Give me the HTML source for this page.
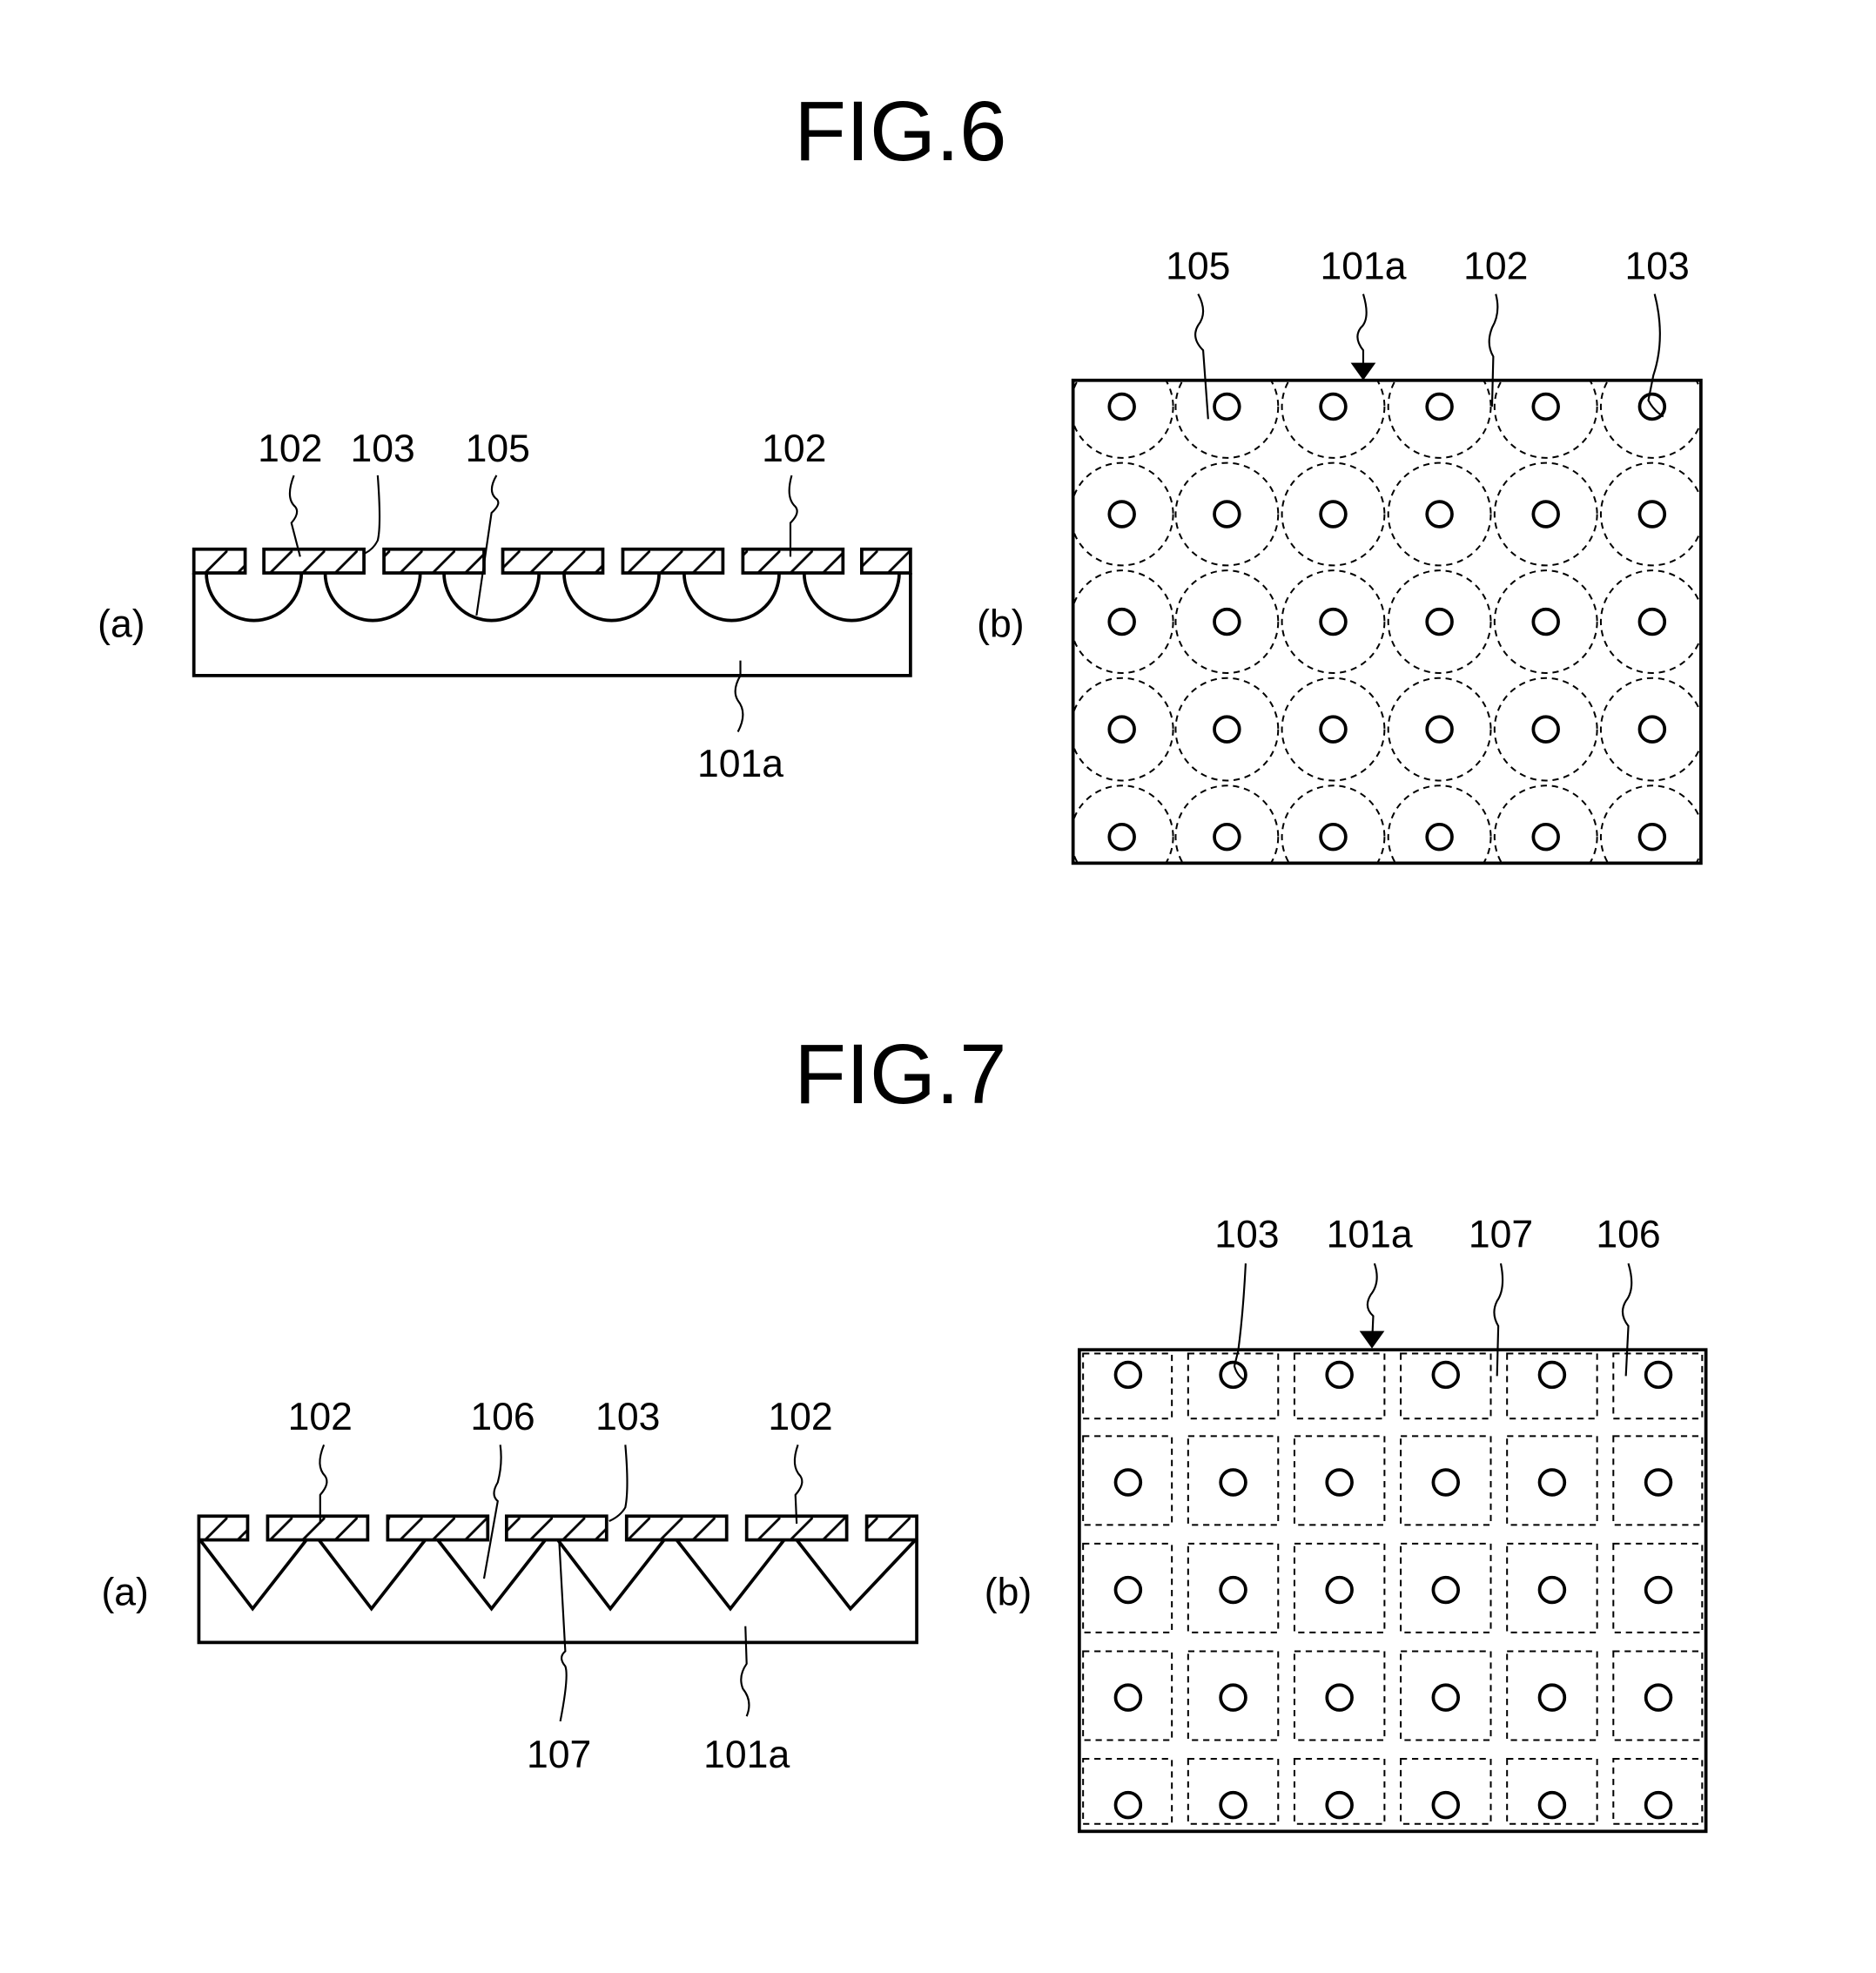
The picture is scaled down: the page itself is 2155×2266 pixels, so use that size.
<!DOCTYPE html>
<html><head><meta charset="utf-8"><style>html,body{margin:0;padding:0;background:#fff}svg{display:block}</style></head>
<body>
<svg width="2155" height="2266" viewBox="0 0 1500 1577.2" xmlns="http://www.w3.org/2000/svg" font-family="Liberation Sans, sans-serif">
<defs>
<pattern id="h" patternUnits="userSpaceOnUse" width="26" height="26" patternTransform="translate(0,440)">
<line x1="0" y1="26" x2="26" y2="0" stroke="#000" stroke-width="2"/>
</pattern>
<pattern id="h2" patternUnits="userSpaceOnUse" width="26" height="26" patternTransform="translate(0,1213)">
<line x1="0" y1="26" x2="26" y2="0" stroke="#000" stroke-width="2"/>
</pattern>
</defs>
<rect width="1500" height="1577.2" fill="#fff"/>
<g fill="#000" text-anchor="middle">
<text x="720" y="128" font-size="68">FIG.6</text>
<text x="720" y="882" font-size="68">FIG.7</text>
<g font-size="31">
<text x="97" y="509">(a)</text>
<text x="800" y="509">(b)</text>
<text x="232" y="369">102</text><text x="306" y="369">103</text><text x="398" y="369">105</text><text x="635" y="369">102</text>
<text x="592" y="621">101a</text>
<text x="958" y="223">105</text><text x="1090" y="223">101a</text><text x="1196" y="223">102</text><text x="1325" y="223">103</text>
<text x="100" y="1283">(a)</text>
<text x="806" y="1283">(b)</text>
<text x="256" y="1143">102</text><text x="402" y="1143">106</text><text x="502" y="1143">103</text><text x="640" y="1143">102</text>
<text x="447" y="1413">107</text><text x="597" y="1413">101a</text>
<text x="997" y="997">103</text><text x="1095" y="997">101a</text><text x="1200" y="997">107</text><text x="1302" y="997">106</text>
</g>
</g>
<g fill="none" stroke="#000" stroke-width="2.6">
<path d="M155 458 V540 H728 V458"/>
<g fill="url(#h)">
<rect x="155" y="439" width="41" height="19"/>
<rect x="211" y="439" width="80" height="19"/>
<rect x="307" y="439" width="80" height="19"/>
<rect x="402" y="439" width="80" height="19"/>
<rect x="498" y="439" width="80" height="19"/>
<rect x="594" y="439" width="80" height="19"/>
<rect x="689" y="439" width="39" height="19"/>
</g>
<path d="M165 458 A38 38 0 0 0 241 458 M260 458 A38 38 0 0 0 336 458 M355 458 A38 38 0 0 0 431 458 M451 458 A38 38 0 0 0 527 458 M547 458 A38 38 0 0 0 623 458 M643 458 A38 38 0 0 0 719 458"/>
</g>
<g fill="none" stroke="#000" stroke-width="1.5">
<path d="M235 380 Q228 398 236 405 Q240 410 233 418 L240 445"/>
<path d="M302 380 Q305 420 302 432 Q298 440 290 443"/>
<path d="M397 380 Q390 392 396 398 Q402 402 393 410 L381 492"/>
<path d="M633 380 Q628 398 636 405 Q640 410 632 418 L632 445"/>
<path d="M590 585 Q598 570 590 560 Q585 552 592 540 L592 528"/>
<path d="M958 235 Q966 250 958 260 Q952 270 962 280 L966 335"/>
<path d="M1090 235 Q1096 255 1088 262 Q1082 270 1090 280 L1090 300"/>
<path d="M1196 235 Q1200 250 1193 262 Q1188 275 1194 285 L1193 325"/>
<path d="M1323 235 Q1332 270 1322 300 L1318 320 Q1322 328 1330 333"/>
<path d="M259 1155 Q252 1172 260 1180 Q264 1186 256 1195 L256 1218"/>
<path d="M400 1155 Q402 1170 398 1185 Q392 1195 398 1200 L387 1262"/>
<path d="M500 1155 Q503 1190 500 1205 Q496 1212 487 1216"/>
<path d="M638 1155 Q632 1172 640 1180 Q644 1186 636 1195 L637 1218"/>
<path d="M447 1230 L452 1320 Q446 1325 452 1332 Q455 1340 448 1376"/>
<path d="M597 1372 Q602 1360 594 1350 Q590 1340 597 1330 L596 1300"/>
<path d="M996 1010 Q994 1050 990 1080 L987 1092 Q989 1100 996 1104"/>
<path d="M1099 1010 Q1104 1025 1096 1035 Q1090 1045 1098 1052 L1097 1075"/>
<path d="M1200 1010 Q1204 1030 1197 1040 Q1192 1050 1198 1060 L1197 1100"/>
<path d="M1302 1010 Q1308 1030 1300 1040 Q1294 1050 1302 1060 L1300 1100"/>
</g>
<path d="M1080 290 L1100 290 L1090 304 Z" fill="#000"/>
<path d="M1087 1064 L1107 1064 L1097 1078 Z" fill="#000"/>
<svg x="858" y="304" width="502" height="386" overflow="hidden">
<g transform="translate(-858,-304)" fill="none" stroke="#000" stroke-width="1.4" stroke-dasharray="5 4">
<g id="r6">
<circle cx="897" cy="325" r="41"/><circle cx="981" cy="325" r="41"/><circle cx="1066" cy="325" r="41"/><circle cx="1151" cy="325" r="41"/><circle cx="1236" cy="325" r="41"/><circle cx="1321" cy="325" r="41"/>
</g>
<use href="#r6" y="86"/><use href="#r6" y="172"/><use href="#r6" y="258"/><use href="#r6" y="344"/>
</g>
</svg>
<g fill="none" stroke="#000" stroke-width="2.6">
<rect x="858" y="304" width="502" height="386"/>
<g id="c6">
<circle cx="897" cy="325" r="10"/><circle cx="981" cy="325" r="10"/><circle cx="1066" cy="325" r="10"/><circle cx="1151" cy="325" r="10"/><circle cx="1236" cy="325" r="10"/><circle cx="1321" cy="325" r="10"/>
</g>
<use href="#c6" y="86"/><use href="#c6" y="172"/><use href="#c6" y="258"/><use href="#c6" y="344"/>
</g>
<g fill="none" stroke="#000" stroke-width="2.6">
<path d="M159 1231 V1313 H733 V1231"/>
<g fill="url(#h2)">
<rect x="159" y="1212" width="39" height="19"/>
<rect x="214" y="1212" width="80" height="19"/>
<rect x="310" y="1212" width="80" height="19"/>
<rect x="405" y="1212" width="80" height="19"/>
<rect x="501" y="1212" width="80" height="19"/>
<rect x="597" y="1212" width="80" height="19"/>
<rect x="693" y="1212" width="40" height="19"/>
</g>
<path d="M160 1231 L202 1286 L245 1231 M255 1231 L297 1286 L340 1231 M350 1231 L393 1286 L436 1231 M446 1231 L488 1286 L531 1231 M541 1231 L584 1286 L627 1231 M637 1231 L680 1286 L732 1231"/>
</g>
<g fill="none" stroke="#000" stroke-width="1.4" stroke-dasharray="5 4">
<g id="s7">
<rect x="866" y="1082" width="71" height="52"/><rect x="950" y="1082" width="72" height="52"/><rect x="1035" y="1082" width="72" height="52"/><rect x="1120" y="1082" width="72" height="52"/><rect x="1205" y="1082" width="72" height="52"/><rect x="1290" y="1082" width="71" height="52"/>
</g>
<g id="s7b">
<rect x="866" y="1148" width="71" height="71"/><rect x="950" y="1148" width="72" height="71"/><rect x="1035" y="1148" width="72" height="71"/><rect x="1120" y="1148" width="72" height="71"/><rect x="1205" y="1148" width="72" height="71"/><rect x="1290" y="1148" width="71" height="71"/>
</g>
<use href="#s7b" y="86"/><use href="#s7b" y="172"/>
<use href="#s7" y="324" />
</g>
<g fill="none" stroke="#000" stroke-width="2.6">
<rect x="863" y="1079" width="501" height="385"/>
<g id="c7">
<circle cx="902" cy="1099" r="10"/><circle cx="986" cy="1099" r="10"/><circle cx="1071" cy="1099" r="10"/><circle cx="1156" cy="1099" r="10"/><circle cx="1241" cy="1099" r="10"/><circle cx="1326" cy="1099" r="10"/>
</g>
<use href="#c7" y="86"/><use href="#c7" y="172"/><use href="#c7" y="258"/><use href="#c7" y="344"/>
</g>
</svg>
</body></html>
